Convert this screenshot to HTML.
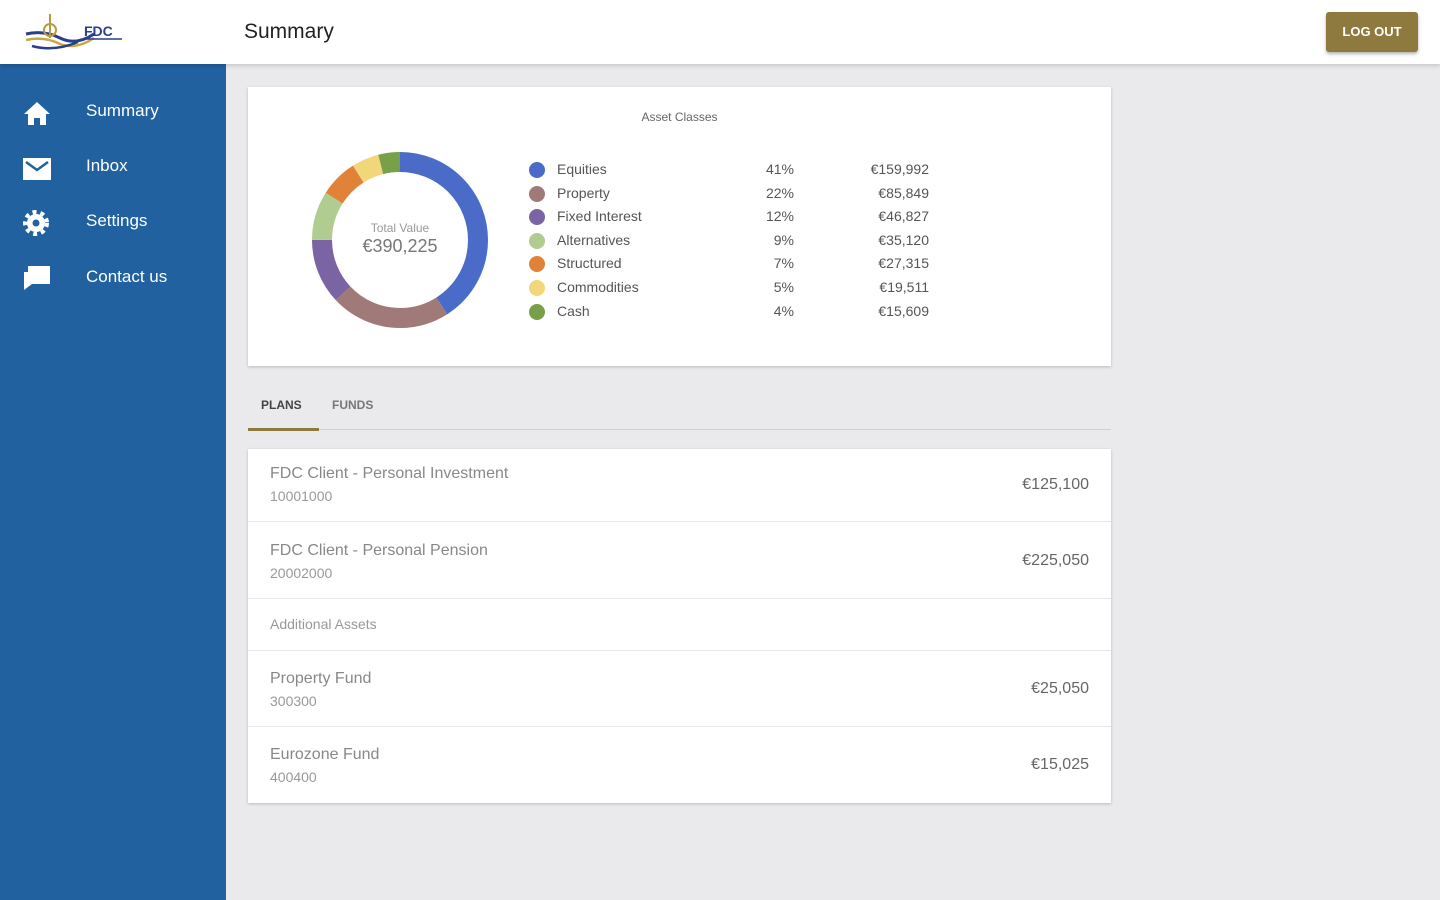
<!DOCTYPE html>
<html><head><meta charset="utf-8"><style>
*{box-sizing:border-box;margin:0;padding:0}
body{width:1440px;height:900px;background:#eaeaed;font-family:"Liberation Sans",sans-serif;position:relative;overflow:hidden;color:#555}
.top{position:absolute;left:0;top:0;width:1440px;height:64px;background:#fff;box-shadow:0 2px 4px rgba(0,0,0,.15);z-index:2}
.side{position:absolute;left:0;top:64px;width:226px;height:836px;background:#21619f}
.nav{position:absolute;left:86px;color:#fff;font-size:17px}
.ic{position:absolute;left:22px;width:30px;height:26px}
.card{position:absolute;left:248px;background:#fff;box-shadow:0 1px 3px rgba(0,0,0,.2)}
.leg{position:absolute;left:529px;width:400px;font-size:14px;color:#555;white-space:nowrap}
.leg div{height:23.6px;position:relative}
.leg i{position:absolute;left:0;top:2px;width:16px;height:16px;border-radius:50%}
.leg span.n{position:absolute;left:28px;top:1px}
.leg span.p{position:absolute;left:205px;top:1px;text-align:right;width:60px}
.leg span.v{position:absolute;left:300px;top:1px;text-align:right;width:100px}
.row{position:absolute;left:0;width:863px;border-bottom:1px solid #e6e6e6}
.row .t{position:absolute;left:22px;font-size:16px;color:#888}
.row .s{position:absolute;left:22px;font-size:14px;color:#999}
.row .a{position:absolute;right:22px;font-size:16px;color:#666}
</style></head><body>
<div class="top">
 <svg style="position:absolute;left:24px;top:12px" width="102" height="40">
  <path d="M2 22 Q20 18 36 26 Q52 34 70 22" stroke="#2a3f8a" stroke-width="3" fill="none"/>
  <path d="M2 28 Q20 24 36 32 Q52 38 70 26" stroke="#c8a840" stroke-width="2.5" fill="none"/>
  <path d="M8 34 Q30 40 54 30" stroke="#2a3f8a" stroke-width="2.5" fill="none"/>
  <circle cx="26" cy="18" r="6" stroke="#b89a40" stroke-width="2" fill="none"/>
  <line x1="26" y1="2" x2="26" y2="26" stroke="#b89a40" stroke-width="2"/>
  <text x="60" y="24" font-family="Liberation Sans" font-size="14" font-weight="bold" fill="#2a3f8a">FDC</text>
  <line x1="60" y1="27" x2="98" y2="27" stroke="#2a3f8a" stroke-width="1.5"/>
 </svg>
 <div style="position:absolute;left:244px;top:20px;font-size:21px;color:#222">Summary</div>
 <div style="position:absolute;left:1326px;top:12px;width:92px;height:40px;background:#8e7a3e;border-radius:3px;box-shadow:0 2px 3px rgba(0,0,0,.3);color:#fff;font-size:13px;font-weight:bold;text-align:center;line-height:40px">LOG OUT</div>
</div>
<div class="side">
 <svg class="ic" style="top:36px" viewBox="0 0 30 26"><path d="M15 2 L28 14 H24 V25 H18 V18 H12 V25 H6 V14 H2Z" fill="#fff"/></svg>
 <div class="nav" style="top:37px">Summary</div>
 <svg class="ic" style="top:92px" viewBox="0 0 30 26"><rect x="1" y="2" width="28" height="22" fill="#fff"/><path d="M4 6 L15 14 L26 6" stroke="#21619f" stroke-width="2.5" fill="none"/></svg>
 <div class="nav" style="top:92px">Inbox</div>
 <svg class="ic" style="top:146px" viewBox="0 0 30 26"><circle cx="14" cy="13" r="9" fill="#fff"/><circle cx="14" cy="13" r="11" fill="none" stroke="#fff" stroke-width="4" stroke-dasharray="4 4"/><circle cx="14" cy="13" r="3.5" fill="#21619f"/></svg>
 <div class="nav" style="top:147px">Settings</div>
 <svg class="ic" style="top:200px" viewBox="0 0 30 26"><path d="M6 2 H28 V20 H10 L2 26 V8 H6Z" fill="#fff"/></svg>
 <div class="nav" style="top:203px">Contact us</div>
</div>
<div class="card" style="top:87px;width:863px;height:279px">
 <div style="position:absolute;left:0;width:863px;top:23px;text-align:center;font-size:12px;color:#666">Asset Classes</div>
</div>
<svg style="position:absolute;left:310px;top:150px" width="180" height="180" viewBox="0 0 180 180">
 <g transform="rotate(-90 90 90)" fill="none" stroke-width="20">
  <circle cx="90" cy="90" r="78" stroke="#4a6cc8" stroke-dasharray="200.9 490" stroke-dashoffset="0"/>
  <circle cx="90" cy="90" r="78" stroke="#a07a78" stroke-dasharray="107.8 490" stroke-dashoffset="-200.9"/>
  <circle cx="90" cy="90" r="78" stroke="#7a64a4" stroke-dasharray="58.8 490" stroke-dashoffset="-308.7"/>
  <circle cx="90" cy="90" r="78" stroke="#b0cc90" stroke-dasharray="44.1 490" stroke-dashoffset="-367.5"/>
  <circle cx="90" cy="90" r="78" stroke="#e08238" stroke-dasharray="34.3 490" stroke-dashoffset="-411.6"/>
  <circle cx="90" cy="90" r="78" stroke="#f2d67a" stroke-dasharray="24.5 490" stroke-dashoffset="-445.9"/>
  <circle cx="90" cy="90" r="78" stroke="#78a048" stroke-dasharray="19.6 490" stroke-dashoffset="-470.4"/>
 </g>
 <text x="90" y="82" text-anchor="middle" font-family="Liberation Sans" font-size="12" fill="#999">Total Value</text>
 <text x="90" y="102" text-anchor="middle" font-family="Liberation Sans" font-size="18" fill="#777">€390,225</text>
</svg>
<div class="leg" style="top:160px">
 <div><i style="background:#4a6cc8"></i><span class="n">Equities</span><span class="p">41%</span><span class="v">€159,992</span></div>
 <div><i style="background:#a07a78"></i><span class="n">Property</span><span class="p">22%</span><span class="v">€85,849</span></div>
 <div><i style="background:#7a64a4"></i><span class="n">Fixed Interest</span><span class="p">12%</span><span class="v">€46,827</span></div>
 <div><i style="background:#b0cc90"></i><span class="n">Alternatives</span><span class="p">9%</span><span class="v">€35,120</span></div>
 <div><i style="background:#e08238"></i><span class="n">Structured</span><span class="p">7%</span><span class="v">€27,315</span></div>
 <div><i style="background:#f2d67a"></i><span class="n">Commodities</span><span class="p">5%</span><span class="v">€19,511</span></div>
 <div><i style="background:#78a048"></i><span class="n">Cash</span><span class="p">4%</span><span class="v">€15,609</span></div>
</div>
<div style="position:absolute;left:261px;top:398px;font-size:12px;font-weight:bold;color:#444">PLANS</div>
<div style="position:absolute;left:332px;top:398px;font-size:12px;font-weight:bold;color:#777">FUNDS</div>
<div style="position:absolute;left:248px;top:429px;width:863px;height:1px;background:#d0d0d0"></div>
<div style="position:absolute;left:248px;top:428px;width:71px;height:3px;background:#8e7a3e"></div>
<div class="card" style="top:449px;width:863px;height:354px">
 <div class="row" style="top:0;height:73px"><div class="t" style="top:16px">FDC Client - Personal Investment</div><div class="s" style="top:39px">10001000</div><div class="a" style="top:27px">€125,100</div></div>
 <div class="row" style="top:73px;height:77px"><div class="t" style="top:20px">FDC Client - Personal Pension</div><div class="s" style="top:43px">20002000</div><div class="a" style="top:30px">€225,050</div></div>
 <div class="row" style="top:150px;height:52px"><div class="s" style="top:17px">Additional Assets</div></div>
 <div class="row" style="top:202px;height:76px"><div class="t" style="top:19px">Property Fund</div><div class="s" style="top:42px">300300</div><div class="a" style="top:29px">€25,050</div></div>
 <div class="row" style="top:278px;height:76px;border:none"><div class="t" style="top:19px">Eurozone Fund</div><div class="s" style="top:42px">400400</div><div class="a" style="top:29px">€15,025</div></div>
</div>
</body></html>
